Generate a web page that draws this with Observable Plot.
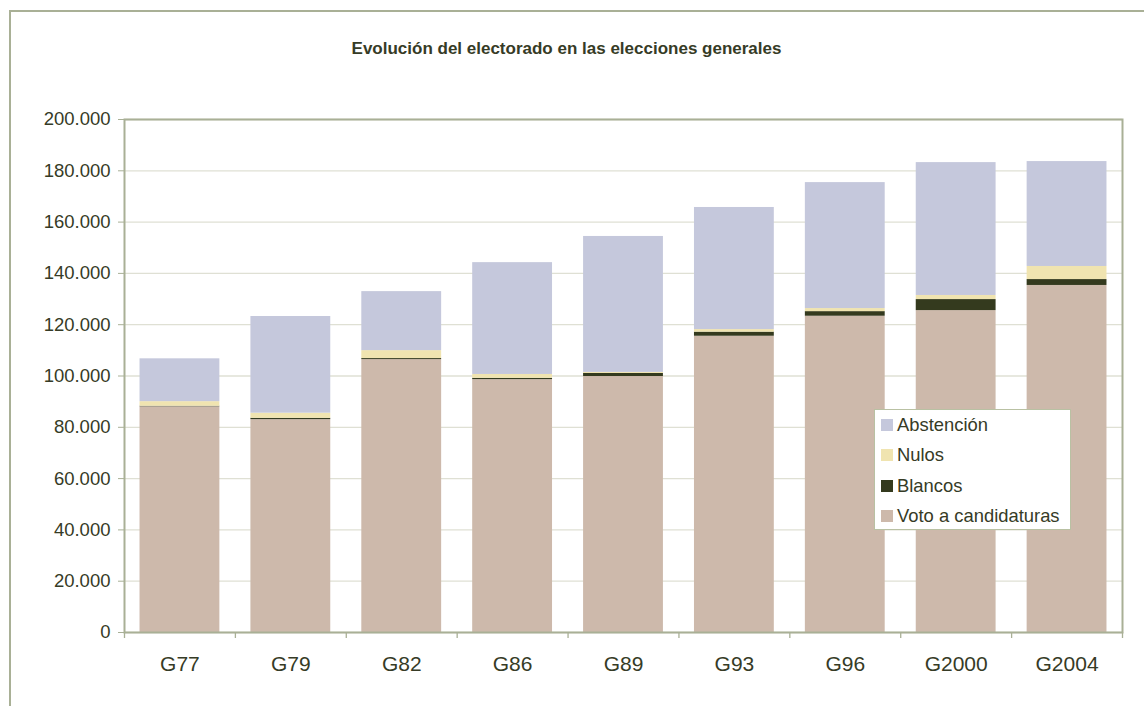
<!DOCTYPE html>
<html>
<head>
<meta charset="utf-8">
<script src="https://cdn.jsdelivr.net/npm/d3@7"></script>
<script src="https://cdn.jsdelivr.net/npm/@observablehq/plot@0.6"></script>
<style>
  html, body { margin: 0; padding: 0; background: #fff; overflow: hidden; }
  body { width: 1144px; height: 706px; position: relative; font-family: "Liberation Sans", Arial, sans-serif; color: #363b26; }
  #frame { position: absolute; left: 9px; top: 10px; width: 1300px; height: 900px; border-left: 2px solid #a9b096; border-top: 2px solid #a9b096; box-sizing: border-box; }
  #title { position: absolute; left: 0; top: 39.5px; width: 1133px; text-align: center; font-weight: bold; font-size: 17px; line-height: 17px; color: #363b26; }
  #chart { position: absolute; left: 0; top: 0; }
  #legend { position: absolute; left: 874px; top: 409px; width: 197px; height: 121px; box-sizing: border-box; border: 1.5px solid #b9c1a3; background: #fff; }
  .row { position: absolute; left: 6px; height: 30px; display: flex; align-items: center; font-size: 18.4px; color: #363b26; white-space: nowrap; }
  .sw { width: 12px; height: 12px; margin-right: 4px; flex: none; }
</style>
</head>
<body>
<div id="frame"></div>
<div id="title">Evolución del electorado en las elecciones generales</div>
<div id="chart"></div>
<div id="legend"></div>
<script>
// ---- data ----
const categories = ["G77", "G79", "G82", "G86", "G89", "G93", "G96", "G2000", "G2004"];
const series = ["Voto a candidaturas", "Blancos", "Nulos", "Abstención"];
const votoCandidaturas = [88000, 83000, 106400, 98600, 99800, 115500, 123300, 125500, 135300];
const blancos          = [200, 500, 400, 500, 1200, 1600, 1800, 4300, 2300];
const nulos            = [1800, 2000, 3100, 1500, 400, 1000, 1200, 1600, 5100];
const abstencion       = [16700, 37700, 23000, 43600, 53000, 47600, 49100, 51800, 40900];
const yTicks = [0, 20000, 40000, 60000, 80000, 100000, 120000, 140000, 160000, 180000, 200000];
const legendOrder = ["Abstención", "Nulos", "Blancos", "Voto a candidaturas"];
const colors = ["#cdb9ab", "#343a1e", "#f0e4b0", "#c5c8dc"];

// ---- build table ----
const valuesBySeries = [votoCandidaturas, blancos, nulos, abstencion];
const rows = [];
categories.forEach((c, i) => {
  series.forEach((s, j) => rows.push({cat: c, serie: s, value: valuesBySeries[j][i]}));
});

const es = d3.formatLocale({decimal: ",", thousands: ".", grouping: [3], currency: ["", "€"]});
const fmt = es.format(",d");

const W = 1144, H = 706;
const mL = 124, mR = 22, mT = 119, mB = 74;
const xOpts = {type: "band", domain: categories, paddingInner: 0.28, paddingOuter: 0.14, align: 0.5, round: false};
const sx = Plot.scale({x: {...xOpts, range: [mL, W - mR]}});
const step = sx.step;
const gridColor = "#dfe0d4";
const axisColor = "#a9b096";
const textColor = "#363b26";

const plot = Plot.plot({
  width: W,
  height: H,
  marginLeft: mL,
  marginRight: mR,
  marginTop: mT,
  marginBottom: mB,
  style: {fontFamily: "'Liberation Sans', Arial, sans-serif", fontSize: "16px", color: textColor, background: "transparent"},
  x: {...xOpts, label: null},
  y: {domain: [0, 200000], label: null},
  color: {domain: series, range: colors},
  marks: [
    Plot.gridY(yTicks, {stroke: gridColor, strokeOpacity: 1, strokeWidth: 1.3}),
    Plot.barY(rows, {x: "cat", y: "value", fill: "serie"}),
    Plot.frame({stroke: axisColor, strokeWidth: 2}),
    Plot.axisY(yTicks, {tickFormat: fmt, tickSize: 6, tickPadding: 8, fontSize: 18.5, stroke: axisColor, fill: textColor, label: null}),
    Plot.axisX({tickSize: 0, tickPadding: 24, fontSize: 21, fill: textColor, label: null}),
    Plot.ruleX(categories, {x: d => d, y1: 0, y2: 0, insetBottom: -6, dx: -step / 2, stroke: axisColor, strokeWidth: 1.3}),
    Plot.ruleX(categories.slice(-1), {x: d => d, y1: 0, y2: 0, insetBottom: -6, dx: step / 2, stroke: axisColor, strokeWidth: 1.3})
  ]
});
document.getElementById("chart").appendChild(plot);

// ---- legend ----
const leg = document.getElementById("legend");
legendOrder.forEach((s, i) => {
  const r = document.createElement("div");
  r.className = "row";
  r.style.top = (i * 30.3) + "px";
  const sw = document.createElement("span");
  sw.className = "sw";
  sw.style.background = colors[series.indexOf(s)];
  const t = document.createElement("span");
  t.textContent = s;
  r.appendChild(sw);
  r.appendChild(t);
  leg.appendChild(r);
});
</script>
</body>
</html>
